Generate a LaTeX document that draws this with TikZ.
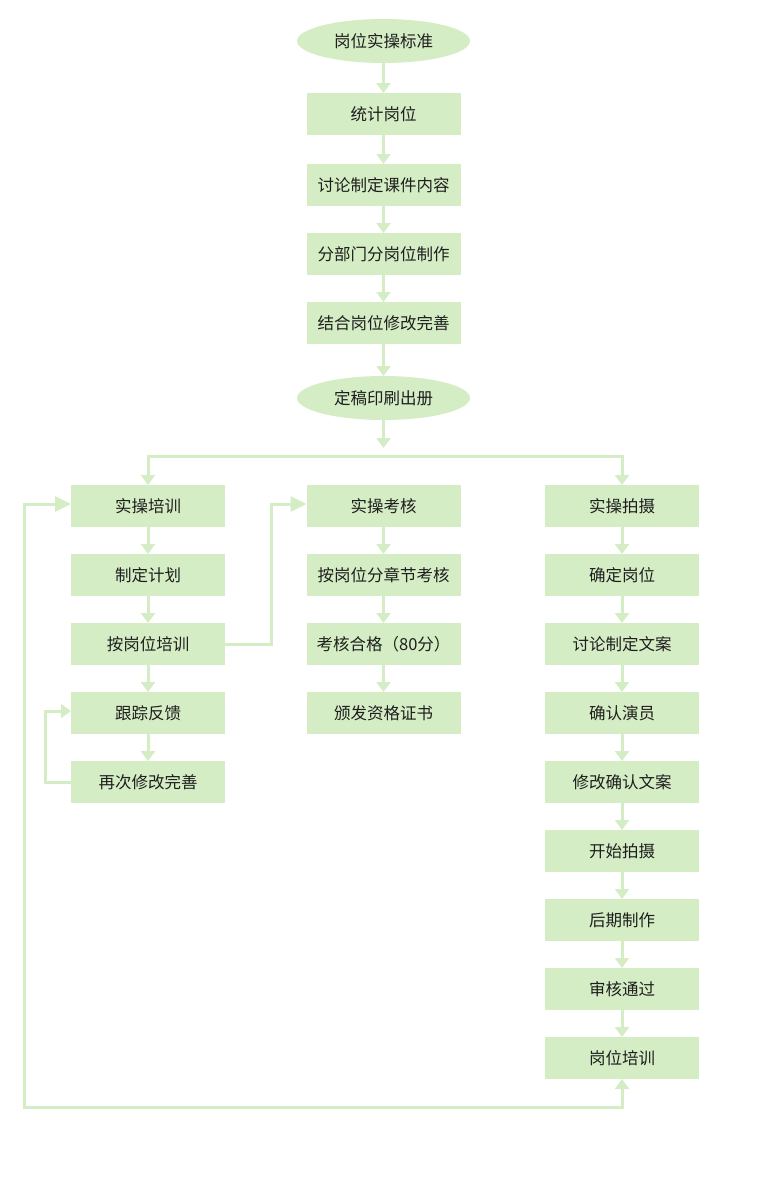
\documentclass[tikz,border=0pt]{standalone}
\usepackage{fontspec}
\setmainfont{Noto Sans CJK SC}
\usetikzlibrary{positioning,arrows.meta,shapes}
\definecolor{leafgreen}{HTML}{D5EDC4}
\definecolor{inkgray}{HTML}{1E1E1E}

\begin{document}
\begin{tikzpicture}[x=1pt,y=-1pt,node distance=27pt,
    >={Triangle[width=14pt,length=10pt]},
    box/.style={rectangle, fill=leafgreen, minimum width=154pt, minimum height=42pt, inner sep=0pt, outer sep=0pt, text=inkgray, font=\fontsize{16.5}{18}\selectfont},
    oval/.style={ellipse, fill=leafgreen, minimum width=173pt, minimum height=44pt, inner sep=0pt, outer sep=0pt, text=inkgray, font=\fontsize{16.5}{18}\selectfont},
    link/.style={draw=leafgreen, line width=3pt, ->},
    bigtip/.style={-{Triangle[width=15pt,length=16pt]}}]
  \useasboundingbox (0,0) rectangle (760,1178);

  % top chain
  \node[oval] (standard) at (383.5,41) {岗位实操标准};
  \node[box, below=30pt of standard] (count) {统计岗位};
  \node[box, below=29pt of count] (discuss) {讨论制定课件内容};
  \node[box, below=of discuss] (divide) {分部门分岗位制作};
  \node[box, below=of divide] (revise) {结合岗位修改完善};
  \node[oval] (print) at (383.5,398) {定稿印刷出册};

  \draw[link] (standard) -- (count);
  \draw[link] (count) -- (discuss);
  \draw[link] (discuss) -- (divide);
  \draw[link] (divide) -- (revise);
  \draw[link] (revise) -- (print);

  % fork
  \coordinate (forkin) at (383.5,448);
  \coordinate (fork) at (383.5,456);
  \draw[link] (print) -- (forkin);

  % left column
  \node[box] (train) at (148,506) {实操培训};
  \node[box, below=of train] (plan) {制定计划};
  \node[box, below=of plan] (bytrain) {按岗位培训};
  \node[box, below=of bytrain] (feedback) {跟踪反馈};
  \node[box, below=of feedback] (redo) {再次修改完善};

  % middle column
  \node[box] (exam) at (383.5,506) {实操考核};
  \node[box, below=of exam] (chapter) {按岗位分章节考核};
  \node[box, below=of chapter] (pass) {考核合格（80分）};
  \node[box, below=of pass] (cert) {颁发资格证书};

  % right column
  \node[box] (shoot) at (622,506) {实操拍摄};
  \node[box, below=of shoot] (post) {确定岗位};
  \node[box, below=of post] (script) {讨论制定文案};
  \node[box, below=of script] (actor) {确认演员};
  \node[box, below=of actor] (confirm) {修改确认文案};
  \node[box, below=of confirm] (start) {开始拍摄};
  \node[box, below=of start] (edit) {后期制作};
  \node[box, below=of edit] (approve) {审核通过};
  \node[box, below=of approve] (jobtrain) {岗位培训};

  \draw[link] (fork) -| (train);
  \draw[link] (fork) -| (shoot);

  \draw[link] (train) -- (plan);
  \draw[link] (plan) -- (bytrain);
  \draw[link] (bytrain) -- (feedback);
  \draw[link] (feedback) -- (redo);
  \draw[link] (redo.west) -- ++(-26,0) |- ([yshift=2pt]feedback.west);
  \draw[link,bigtip] (bytrain.east) -- ++(46,0) |- ([yshift=2pt]exam.west);

  \draw[link] (exam) -- (chapter);
  \draw[link] (chapter) -- (pass);
  \draw[link] (pass) -- (cert);

  \draw[link] (shoot) -- (post);
  \draw[link] (post) -- (script);
  \draw[link] (script) -- (actor);
  \draw[link] (actor) -- (confirm);
  \draw[link] (confirm) -- (start);
  \draw[link] (start) -- (edit);
  \draw[link] (edit) -- (approve);
  \draw[link] (approve) -- (jobtrain);

  % return loop
  \coordinate (loopcorner) at (24,1107);
  \draw[link,{Triangle[width=15pt,length=16pt]}-{Triangle[width=14pt,length=10pt]}]
    ([yshift=2pt]train.west) -| (loopcorner) -| (jobtrain.south);
\end{tikzpicture}
\end{document}
